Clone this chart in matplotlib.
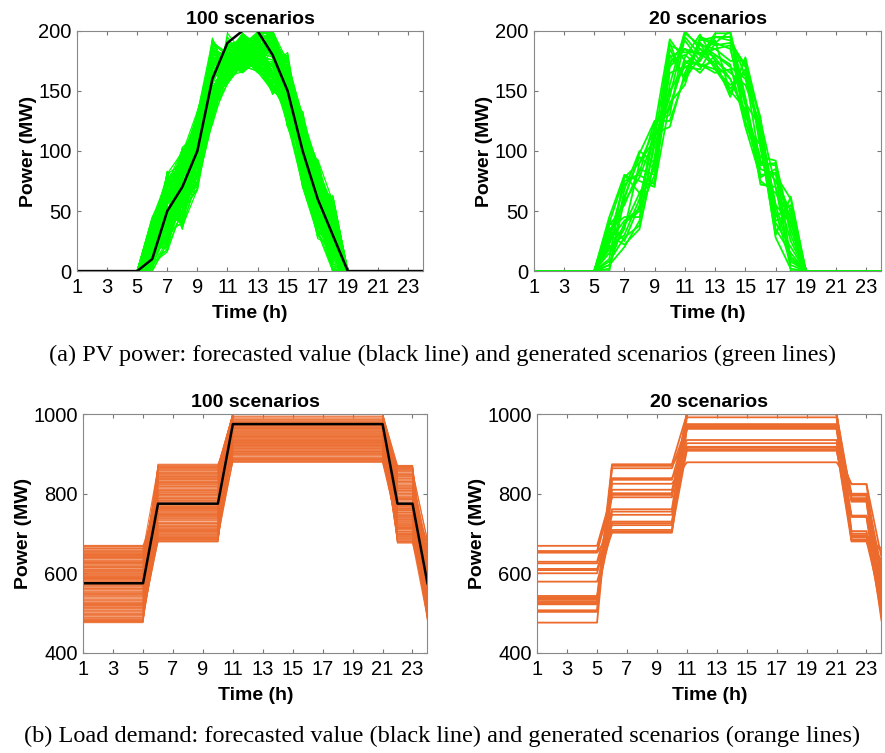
import numpy as np
import matplotlib
matplotlib.use("Agg")
import matplotlib.pyplot as plt

# hours of the day
hours = np.arange(1, 25)
xtick_hours = np.arange(1, 25, 2)

# PV forecast (MW), hours 1..24
pv_forecast = [0, 0, 0, 0, 0, 10, 50, 70, 100, 160, 190, 200,
               200, 180, 150, 100, 60, 30, 0, 0, 0, 0, 0, 0]
pv_cap = 200
# deviations from forecast (MW) for daylight hours 6..18, one row per scenario
pv_dev_hours = np.arange(6, 19)

PV_DEV_20 = """
5 -15 20 10 -10 -20 -25 -5 15 -10 20 -5 10
35 30 -5 -15 25 -30 -10 -32 -25 15 -12 30 -20
-10 10 28 25 -30 5 -20 -15 8 -28 5 -30 32
20 -28 -35 -5 15 -10 -30 -25 -35 28 25 10 -5
15 25 10 -28 -20 -35 -5 -10 20 -5 -20 22 -30
-5 -10 -20 20 33 -15 -35 -20 -10 10 15 -15 25
28 5 15 -20 -5 10 -15 -28 -20 -20 -5 32 5
10 -20 -10 15 -40 -25 -8 -5 12 20 28 -25 -15
-8 18 30 -10 10 -5 -28 -32 -30 -15 -25 5 15
25 -5 -25 5 -15 8 -12 -15 -5 25 10 -10 -25
0 30 5 -30 20 -30 -22 -2 18 -25 -15 20 30
32 -25 -15 22 -25 -12 -3 -25 -15 5 22 -20 -10
12 12 25 -15 5 -20 -32 -10 5 -12 -8 15 20
-5 -30 -28 10 28 -8 -18 -30 -28 18 8 -32 -28
18 22 12 25 -35 -28 -10 -20 -8 -30 -22 25 12
8 -12 -5 -25 12 2 -25 -5 15 12 18 -5 -18
30 28 20 18 -10 -18 -15 -22 -20 -18 -10 28 0
-2 -22 -32 -8 30 -32 -6 -12 10 22 25 -28 22
22 8 8 12 -22 -15 -28 -35 -12 -8 -28 10 -22
15 -8 -18 -20 18 -5 -20 -8 -32 26 2 -18 18
"""

PV_DEV_100 = """
12 -20 5 30 -8 -15 -30 4 22 -12 18 -25 10
-5 28 -18 -10 25 -32 -6 -22 -14 30 -3 15 -28
30 -9 33 14 -30 8 -18 -35 5 -20 27 2 31
-8 15 -32 -25 10 -3 -28 -12 -33 12 -15 30 -6
22 -33 11 5 -18 -24 -10 -27 18 -30 8 -12 25
3 7 -5 -30 32 -12 -33 -8 -20 3 -28 22 -18
-10 -26 24 20 -2 -30 -15 -20 10 25 12 -30 6
35 18 -14 -6 -24 2 -25 -32 -27 -8 -20 10 20
8 -12 28 33 15 -20 -4 -15 30 -25 33 -5 -35
-2 33 -26 -18 -35 -8 -22 -30 -5 18 -10 26 14
17 -4 -9 26 6 -27 -12 -3 -18 -16 24 -18 -12
26 22 17 -14 -12 -18 -35 -24 14 8 -6 33 28
-6 -17 -30 9 29 -10 -8 -18 -25 28 -22 -8 -2
14 10 31 -22 -28 5 -26 -10 0 -6 15 18 -24
32 -30 -2 16 20 -33 -2 -28 25 -28 -18 -28 16
1 25 20 -3 -15 -14 -20 -6 -30 20 30 5 -15
20 -15 -22 28 12 -22 -30 -33 12 -2 -12 -20 33
-9 5 8 -28 -22 -6 -14 -16 -10 32 6 28 4
28 30 -28 10 34 -28 -24 -2 -22 -20 -26 -10 -30
6 -22 26 -12 -5 0 -10 -26 20 14 21 24 22
24 13 -12 23 -32 -20 -32 -14 -15 -24 -8 -33 -8
-4 -32 15 -20 17 -25 -5 -30 8 24 28 12 30
15 20 -35 2 -10 -10 -28 -9 -28 -14 -30 20 -20
33 -7 22 31 26 -30 -16 -22 28 6 10 -15 12
10 27 -6 -33 -26 -16 -7 -34 -6 -30 -16 31 -32
-7 -24 30 18 8 -4 -34 -5 16 16 26 -22 8
19 8 -20 -8 -38 -26 -18 -20 -32 30 -4 8 26
29 -18 12 24 22 -12 -3 -12 4 -10 20 -30 -14
4 32 -25 -16 -14 -34 -26 -28 -20 10 -24 27 18
-1 -12 18 6 30 -8 -12 -1 24 -26 12 -6 -26
25 17 -10 -26 -20 -22 -22 -25 -12 26 -14 16 2
13 -28 27 27 4 -18 -30 -15 10 -18 32 -26 32
-8 3 -30 -4 -30 -2 -8 -31 -26 4 -20 4 -10
31 24 7 19 28 -30 -20 -7 18 20 8 25 24
9 -10 21 -30 -8 -14 -33 -18 -2 -28 -28 -18 -18
18 29 -16 12 14 -24 -10 -24 -30 12 22 30 10
-3 -20 32 -20 -24 -10 -16 -4 22 -8 -2 -12 -34
27 9 -4 29 6 -32 -28 -30 -16 28 16 14 28
2 -33 16 -10 -36 -6 -4 -20 6 -22 -30 -28 -4
21 16 -24 15 24 -20 -24 -10 26 2 30 20 20
7 -6 24 -24 -12 -28 -14 -33 -22 18 -10 -4 -22
34 26 -33 22 18 -16 -31 -16 12 -16 4 32 6
-5 -14 10 3 -28 -4 -6 -26 -8 24 -26 -20 30
16 31 29 -18 10 -30 -22 -2 30 -24 26 10 -16
23 -24 -8 32 -18 -12 -34 -22 -14 8 -18 -32 14
0 12 19 -6 32 -22 -12 -13 2 -30 14 22 -30
26 -2 -28 17 -4 -34 -2 -32 -24 22 -6 -10 24
11 21 14 -27 -34 -8 -26 -8 16 -4 28 28 -8
-10 -27 -12 8 16 -18 -18 -28 -32 14 -22 -24 16
30 6 26 25 2 -26 -30 -18 8 -20 18 6 -24
14 -31 -1 -14 -22 -2 -8 -6 -18 30 -8 18 26
5 23 31 13 26 -24 -22 -24 20 -12 24 -28 0
27 -16 -20 -32 -16 -32 -14 -34 -28 16 -28 26 -20
-6 14 9 30 12 -14 -32 -10 26 -26 10 -14 30
19 29 -31 -8 -30 -6 -6 -21 -4 6 -14 30 -12
32 -9 18 21 20 -28 -24 -3 14 -18 32 -6 18
8 -25 -14 -22 -10 -18 -10 -28 -20 26 -2 -26 -28
-3 18 25 4 30 -10 -28 -14 8 -6 20 12 10
24 4 -26 26 -26 -30 -4 -30 -30 20 -24 -18 -34
12 32 6 -20 6 -20 -20 -8 24 -30 6 24 22
29 -21 29 10 -36 -8 -34 -25 -10 10 -30 -30 4
-7 10 -8 -28 22 -26 -16 -16 18 -14 28 16 -18
18 -29 20 23 -8 -16 -8 -32 -24 26 -12 -8 32
3 26 -22 -2 28 -32 -26 -6 4 -22 16 28 -6
33 -13 13 19 -20 -4 -12 -20 28 4 -20 -22 20
10 19 -33 -32 14 -22 -30 -27 -18 -28 24 8 -26
-9 -3 28 7 -14 -28 -2 -12 12 14 -16 32 14
21 28 -6 28 24 -10 -22 -34 -30 -10 12 -16 -10
6 -19 3 -17 -32 -34 -18 -4 20 24 -6 2 28
26 15 23 14 10 -14 -28 -22 -8 -24 30 -28 -32
-4 -34 -18 -26 -4 -2 -10 -30 26 12 -26 20 8
16 25 16 31 32 -24 -32 -10 -14 -4 18 -12 -20
31 -6 -29 -8 -24 -18 -6 -18 10 28 -10 26 24
1 12 11 20 4 -30 -24 -28 -26 -18 4 -24 -2
20 -23 27 -24 -30 -12 -14 -2 22 18 26 14 30
8 30 -12 5 18 -20 -34 -24 -4 -28 -4 -4 -28
28 -11 -24 29 -12 -6 -20 -33 16 2 -22 30 12
-2 20 21 -12 26 -26 -8 -8 -22 22 22 -20 -16
15 -26 -3 11 -6 -32 -28 -16 6 -12 -12 10 18
34 5 30 -29 -34 -16 -2 -26 28 -26 28 22 -8
4 22 -16 22 16 -10 -26 -12 -16 30 -18 -30 26
22 -18 14 -6 -18 -28 -16 -30 20 -8 14 6 -22
-6 33 -27 33 8 -2 -30 -4 -28 16 -28 28 4
13 -8 25 -20 30 -22 -12 -22 12 -20 8 -14 32
27 16 4 16 -26 -34 -4 -14 -10 6 -2 -26 -12
9 -30 -21 -31 -2 -14 -22 -34 24 -30 32 18 16
25 11 32 2 20 -8 -32 -8 -2 26 -8 -8 -30
-1 -5 -9 25 -16 -26 -14 -20 30 -16 20 24 22
18 27 17 -14 12 -30 -6 -28 -24 10 -24 -22 -4
30 -17 -30 8 -28 -4 -26 -6 14 -24 16 12 28
5 8 22 -23 24 -20 -18 -18 -18 20 -14 -28 -18
23 -28 -11 27 -10 -32 -10 -32 8 -6 26 26 10
-8 24 26 -4 4 -12 -30 -10 -30 28 -20 -6 -26
14 -1 -4 18 28 -24 -24 -24 26 -28 10 16 2
32 18 -35 -18 -22 -6 -8 -30 -12 14 -30 -18 30
7 -21 9 12 14 -28 -34 -2 18 -10 22 30 -14
20 31 19 -27 -36 -18 -16 -26 -26 -20 -10 -10 20
-3 -10 -15 24 6 -10 -2 -16 4 24 28 20 -24
26 14 29 -9 18 -34 -28 -34 22 -2 -26 -30 14
11 -24 -23 29 -14 -16 -20 -12 -20 16 6 4 -6
"""

# load demand: forecast is flat over 5 blocks of hours
load_block_len = [5, 5, 11, 2, 1]
load_forecast_blocks = [575, 775, 975, 775, 575]

# 20 scenarios: level (MW) of each block
load20_b1 = [669, 540, 652, 507, 629, 476, 611, 533, 656, 600,
             522, 625, 503, 579, 653, 528, 608, 537, 543, 525]
load20_b2 = [801, 874, 709, 835, 761, 870, 702, 825, 797, 747,
             864, 721, 839, 705, 791, 810, 730, 755, 726, 800]
load20_b3 = [965, 1000, 910, 973, 1000, 935, 968, 879, 1000, 918,
             970, 992, 908, 966, 1000, 927, 963, 975, 915, 1000]
load20_b4 = [797, 706, 824, 682, 789, 742, 696, 824, 780, 690,
             800, 685, 745, 795, 700, 785, 693, 782, 680, 742]
load20_b5 = [612, 498, 640, 525, 585, 482, 655, 560, 530, 620,
             505, 663, 545, 600, 515, 570, 632, 490, 590, 550]

# 100 scenarios
load100_b1 = [512, 648, 590, 478, 623, 555, 667, 531, 601, 586,
              497, 640, 563, 519, 655, 608, 484, 572, 630, 545,
              661, 503, 594, 538, 617, 490, 579, 652, 526, 611,
              566, 482, 636, 549, 670, 507, 598, 560, 624, 493,
              583, 645, 522, 605, 541, 658, 514, 589, 627, 476,
              570, 633, 553, 500, 614, 664, 535, 596, 487, 642,
              558, 620, 510, 576, 650, 528, 603, 481, 638, 547,
              592, 668, 517, 581, 626, 495, 562, 644, 533, 609,
              488, 574, 656, 521, 599, 543, 631, 505, 587, 662,
              551, 615, 479, 568, 639, 524, 606, 498, 585, 647]
load100_b2 = [842, 701, 765, 858, 689, 812, 736, 870, 748, 795,
              683, 829, 760, 718, 866, 790, 705, 851, 741, 808,
              774, 692, 838, 727, 862, 756, 697, 820, 783, 712,
              847, 733, 679, 803, 768, 874, 721, 786, 694, 834,
              752, 815, 708, 869, 739, 779, 686, 826, 763, 855,
              716, 798, 745, 681, 840, 771, 699, 863, 729, 810,
              788, 710, 853, 743, 823, 685, 776, 836, 758, 703,
              867, 724, 800, 750, 687, 845, 766, 714, 831, 792,
              696, 818, 737, 860, 754, 680, 806, 772, 849, 725,
              781, 707, 843, 762, 690, 828, 747, 872, 719, 797]
load100_b3 = [1000, 912, 958, 1000, 886, 941, 1000, 970, 903, 1000,
              928, 1000, 965, 881, 1000, 947, 919, 1000, 990, 895,
              1000, 936, 976, 1000, 908, 952, 1000, 884, 1000, 962,
              924, 1000, 983, 899, 1000, 944, 915, 1000, 968, 889,
              1000, 931, 995, 1000, 906, 955, 1000, 879, 973, 1000,
              940, 1000, 917, 987, 1000, 892, 960, 1000, 926, 1000,
              950, 901, 1000, 979, 934, 1000, 887, 964, 1000, 921,
              1000, 945, 910, 1000, 985, 897, 1000, 957, 929, 1000,
              882, 971, 1000, 938, 914, 1000, 953, 993, 1000, 905,
              1000, 967, 922, 1000, 948, 890, 1000, 981, 933, 1000]
load100_b4 = [730, 861, 694, 802, 757, 679, 838, 773, 715, 850,
              790, 706, 869, 744, 821, 688, 763, 845, 723, 799,
              680, 832, 751, 711, 864, 785, 698, 817, 739, 855,
              768, 702, 843, 726, 808, 683, 779, 858, 735, 794,
              709, 827, 760, 691, 871, 748, 813, 720, 786, 676,
              840, 754, 697, 824, 771, 713, 866, 741, 801, 686,
              835, 765, 718, 852, 782, 700, 810, 745, 868, 727,
              693, 819, 776, 733, 857, 705, 792, 762, 684, 847,
              737, 806, 716, 863, 753, 689, 829, 770, 724, 797,
              678, 848, 758, 712, 815, 742, 870, 696, 788, 831]
load100_b5 = [620, 505, 668, 548, 590, 487, 642, 566, 612, 530,
              675, 558, 497, 633, 581, 521, 655, 600, 484, 570,
              638, 512, 594, 661, 540, 605, 492, 627, 563, 683,
              535, 586, 648, 509, 615, 553, 672, 499, 597, 544,
              630, 517, 580, 658, 526, 608, 482, 645, 569, 595,
              502, 652, 538, 618, 561, 679, 493, 584, 625, 514,
              666, 549, 603, 488, 636, 575, 527, 662, 556, 610,
              496, 640, 572, 531, 681, 589, 519, 647, 542, 601,
              664, 507, 622, 583, 490, 656, 534, 613, 560, 670,
              524, 592, 650, 501, 628, 546, 578, 686, 515, 606]

GREEN = "#00FF00"
ORANGE = "#EC6A2C"


def pv_scenarios(dev_text):
    dev = np.array(dev_text.split(), dtype=float).reshape(-1, len(pv_dev_hours))
    fc = np.array(pv_forecast, dtype=float)
    out = np.tile(fc, (dev.shape[0], 1))
    out[:, pv_dev_hours - 1] += dev
    return np.clip(out, 0, pv_cap)


def load_scenarios(*blocks):
    levels = np.column_stack(blocks)
    return np.repeat(levels, load_block_len, axis=1)


def style_axes(ax, ylim, yticks, title):
    ax.set_xlim(1, 24)
    ax.set_ylim(*ylim)
    ax.set_xticks(xtick_hours)
    ax.set_yticks(yticks)
    ax.tick_params(direction="in", top=True, right=True, labelsize=14.5,
                   length=3, color="#777777")
    ax.tick_params(axis="x", pad=5)
    ax.tick_params(axis="y", pad=4)
    for s in ax.spines.values():
        s.set_color("#888888")
        s.set_linewidth(0.8)
    ax.set_title(title, fontsize=14, fontweight="bold", pad=5)
    ax.set_xlabel("Time (h)", fontsize=14, fontweight="bold", labelpad=6)
    ax.set_ylabel("Power (MW)", fontsize=14, fontweight="bold", labelpad=1)


plt.rcParams["font.family"] = ["Liberation Sans", "DejaVu Sans"]
fig = plt.figure(figsize=(8.85, 7.53), dpi=100)

ax1 = fig.add_axes([0.087, 0.640, 0.391, 0.319])
ax2 = fig.add_axes([0.603, 0.640, 0.393, 0.319])
ax3 = fig.add_axes([0.094, 0.133, 0.389, 0.317])
ax4 = fig.add_axes([0.607, 0.133, 0.389, 0.317])

pv100 = pv_scenarios(PV_DEV_100)
pv20 = pv_scenarios(PV_DEV_20)
for row in pv100:
    ax1.plot(hours, row, color=GREEN, lw=0.9)
ax1.plot(hours, pv_forecast, color="black", lw=1.8)
for row in pv20:
    ax2.plot(hours, row, color=GREEN, lw=1.3)
style_axes(ax1, (0, 200), [0, 50, 100, 150, 200], "100 scenarios")
style_axes(ax2, (0, 200), [0, 50, 100, 150, 200], "20 scenarios")

ld100 = load_scenarios(load100_b1, load100_b2, load100_b3, load100_b4, load100_b5)
ld20 = load_scenarios(load20_b1, load20_b2, load20_b3, load20_b4, load20_b5)
load_forecast = np.repeat(load_forecast_blocks, load_block_len)
for row in ld100:
    ax3.plot(hours, row, color=ORANGE, lw=0.8, alpha=0.9)
ax3.plot(hours, load_forecast, color="black", lw=1.8)
for row in ld20:
    ax4.plot(hours, row, color=ORANGE, lw=1.3)
style_axes(ax3, (400, 1000), [400, 600, 800, 1000], "100 scenarios")
style_axes(ax4, (400, 1000), [400, 600, 800, 1000], "20 scenarios")

fig.text(0.5, 0.528, "(a) PV power: forecasted value (black line) and generated scenarios (green lines)",
         ha="center", va="center", fontsize=17.5, family="Liberation Serif")
fig.text(0.5, 0.022, "(b) Load demand: forecasted value (black line) and generated scenarios (orange lines)",
         ha="center", va="center", fontsize=17.5, family="Liberation Serif")

fig.savefig("out.png", dpi=100)
